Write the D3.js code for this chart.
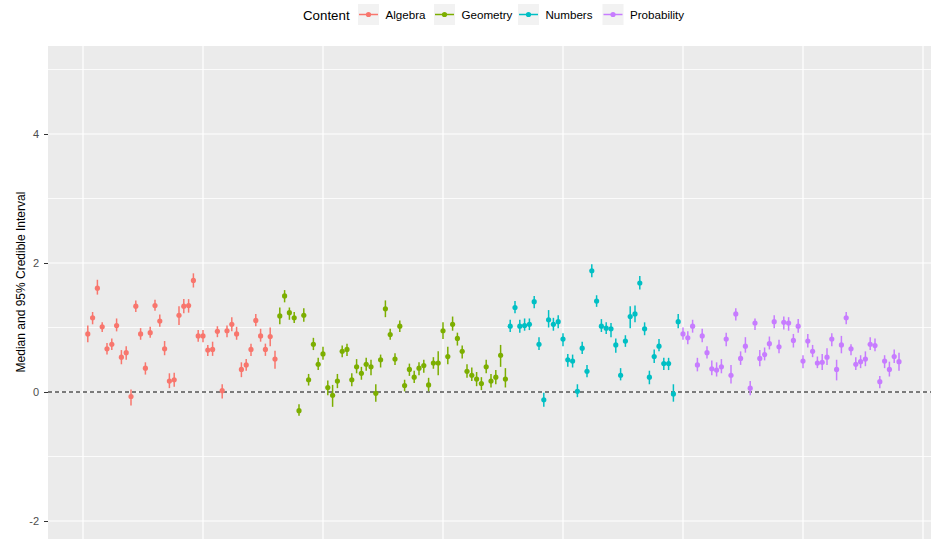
<!DOCTYPE html>
<html>
<head>
<meta charset="utf-8">
<script src="https://cdn.jsdelivr.net/npm/d3@7"></script>
<style>
  html, body { margin: 0; padding: 0; background: #fff; }
  svg { display: block; font-family: "Liberation Sans", Arial, sans-serif; }
</style>
</head>
<body>
<svg id="chart" width="931" height="539"></svg>
<script>
// Content areas and how many items belong to each (items are numbered in order)
const contents = ["Algebra", "Geometry", "Numbers", "Probability"];
const itemCounts = [40, 48, 36, 46];
const contentColors = ["#F8766D", "#7CAE00", "#00BFC4", "#C77CFF"];

// Posterior medians per item
const medians = [
  // Algebra
  0.90, 1.15, 1.61, 1.01, 0.67, 0.74, 1.03, 0.54, 0.61, -0.07,
  1.33, 0.90, 0.37, 0.92, 1.34, 1.10, 0.67, 0.17, 0.19, 1.19,
  1.33, 1.34, 1.73, 0.87, 0.87, 0.65, 0.66, 0.94, 0.02, 0.95,
  1.05, 0.90, 0.35, 0.42, 0.66, 1.11, 0.87, 0.66, 0.86, 0.51,
  // Geometry
  1.18, 1.49, 1.23, 1.15, -0.29, 1.19, 0.19, 0.74, 0.43, 0.59,
  0.07, -0.05, 0.17, 0.63, 0.66, 0.19, 0.39, 0.29, 0.43, 0.39,
  -0.02, 0.50, 1.29, 0.89, 0.51, 1.02, 0.10, 0.35, 0.23, 0.37,
  0.41, 0.11, 0.45, 0.45, 0.95, 0.55, 1.05, 0.83, 0.63, 0.32,
  0.26, 0.20, 0.13, 0.39, 0.17, 0.23, 0.57, 0.20,
  // Numbers
  1.02, 1.31, 1.02, 1.03, 1.05, 1.40, 0.74, -0.12, 1.12, 1.05,
  1.09, 0.82, 0.50, 0.48, 0.01, 0.68, 0.32, 1.88, 1.41, 1.02,
  0.99, 0.98, 0.73, 0.26, 0.79, 1.17, 1.21, 1.69, 0.98, 0.23,
  0.55, 0.71, 0.44, 0.44, -0.03, 1.09,
  // Probability
  0.90, 0.84, 1.02, 0.42, 0.87, 0.61, 0.36, 0.34, 0.39, 0.82,
  0.26, 1.21, 0.52, 0.71, 0.06, 1.07, 0.52, 0.58, 0.75, 1.09,
  0.70, 1.08, 1.07, 0.80, 1.02, 0.48, 0.79, 0.63, 0.45, 0.46,
  0.54, 0.82, 0.35, 0.73, 1.15, 0.67, 0.43, 0.47, 0.51, 0.74,
  0.72, 0.16, 0.48, 0.35, 0.55, 0.47
];

// Lower bounds of the 95% credible intervals
const lower = [
  0.77, 1.05, 1.51, 0.93, 0.58, 0.65, 0.94, 0.43, 0.50, -0.21,
  1.24, 0.81, 0.27, 0.84, 1.26, 1.01, 0.57, 0.06, 0.08, 1.04,
  1.22, 1.23, 1.62, 0.78, 0.77, 0.56, 0.56, 0.85, -0.10, 0.85,
  0.94, 0.81, 0.23, 0.33, 0.56, 1.02, 0.78, 0.56, 0.71, 0.36,
  1.05, 1.39, 1.12, 1.07, -0.37, 1.09, 0.10, 0.65, 0.34, 0.50,
  -0.05, -0.23, 0.06, 0.54, 0.56, 0.09, 0.29, 0.19, 0.33, 0.26,
  -0.15, 0.38, 1.16, 0.81, 0.42, 0.93, 0.01, 0.25, 0.14, 0.26,
  0.30, 0.01, 0.36, 0.26, 0.82, 0.43, 0.95, 0.72, 0.52, 0.22,
  0.17, 0.09, 0.03, 0.29, 0.07, 0.12, 0.39, 0.07,
  0.93, 1.22, 0.92, 0.95, 0.96, 1.30, 0.65, -0.23, 1.00, 0.95,
  0.99, 0.71, 0.39, 0.38, -0.08, 0.59, 0.23, 1.78, 1.32, 0.93,
  0.90, 0.85, 0.61, 0.18, 0.70, 0.99, 1.08, 1.59, 0.88, 0.12,
  0.45, 0.63, 0.34, 0.34, -0.15, 0.99,
  0.81, 0.74, 0.92, 0.32, 0.77, 0.52, 0.26, 0.24, 0.29, 0.71,
  0.13, 1.11, 0.42, 0.61, -0.05, 0.96, 0.40, 0.49, 0.66, 0.99,
  0.60, 0.97, 0.95, 0.69, 0.92, 0.37, 0.69, 0.54, 0.37, 0.34,
  0.42, 0.71, 0.18, 0.60, 1.05, 0.57, 0.34, 0.37, 0.40, 0.65,
  0.63, 0.06, 0.37, 0.24, 0.45, 0.33
];

// Upper bounds of the 95% credible intervals
const upper = [
  1.03, 1.24, 1.74, 1.08, 0.76, 0.83, 1.14, 0.65, 0.71, 0.04,
  1.42, 0.99, 0.46, 1.01, 1.43, 1.20, 0.79, 0.29, 0.30, 1.33,
  1.44, 1.44, 1.84, 0.96, 0.96, 0.73, 0.78, 1.02, 0.12, 1.03,
  1.16, 1.01, 0.46, 0.51, 0.75, 1.21, 0.98, 0.75, 1.00, 0.64,
  1.31, 1.58, 1.31, 1.24, -0.19, 1.30, 0.28, 0.84, 0.53, 0.70,
  0.18, 0.11, 0.28, 0.72, 0.75, 0.29, 0.51, 0.39, 0.53, 0.50,
  0.12, 0.58, 1.42, 0.98, 0.60, 1.11, 0.19, 0.44, 0.33, 0.46,
  0.50, 0.22, 0.54, 0.63, 1.08, 0.70, 1.17, 0.92, 0.72, 0.43,
  0.38, 0.31, 0.23, 0.50, 0.28, 0.34, 0.73, 0.37,
  1.12, 1.41, 1.12, 1.14, 1.14, 1.49, 0.85, -0.01, 1.27, 1.15,
  1.19, 0.91, 0.59, 0.58, 0.12, 0.78, 0.42, 1.98, 1.50, 1.13,
  1.08, 1.07, 0.83, 0.37, 0.88, 1.33, 1.34, 1.80, 1.08, 0.33,
  0.66, 0.82, 0.53, 0.53, 0.12, 1.21,
  1.00, 0.94, 1.12, 0.53, 0.98, 0.71, 0.49, 0.46, 0.51, 0.92,
  0.42, 1.30, 0.63, 0.85, 0.17, 1.14, 0.65, 0.69, 0.86, 1.19,
  0.81, 1.17, 1.16, 0.90, 1.13, 0.57, 0.90, 0.73, 0.55, 0.59,
  0.68, 0.91, 0.50, 0.87, 1.24, 0.74, 0.54, 0.57, 0.63, 0.85,
  0.83, 0.25, 0.57, 0.47, 0.66, 0.61
];

const yTicks = [-2, 0, 2, 4];
const yMinorTicks = [-1, 1, 3, 5];
const xBreaks = [0, 25, 50, 75, 100, 125, 150, 175];
const legendTitle = "Content";
const yTitle = "Median and 95% Credible Interval";

// Assemble one record per item
const items = [];
let idx = 0;
contents.forEach((c, ci) => {
  for (let k = 0; k < itemCounts[ci]; k++) {
    items.push({ item: idx + 1, content: c, median: medians[idx], lo: lower[idx], hi: upper[idx] });
    idx++;
  }
});

const svg = d3.select("#chart");
const W = 931, H = 539;
const panel = { left: 48, top: 46, right: 940, bottom: 545 };

const x = d3.scaleLinear().domain([0, 175]).range([83, 923]);
const y = d3.scaleLinear().domain([-2, 4]).range([521, 134]);
const color = d3.scaleOrdinal().domain(contents).range(contentColors);

svg.append("rect").attr("width", W).attr("height", H).attr("fill", "#fff");

// Panel background
const clip = svg.append("defs").append("clipPath").attr("id", "panelClip");
clip.append("rect").attr("x", panel.left).attr("y", panel.top)
  .attr("width", panel.right - panel.left).attr("height", panel.bottom - panel.top);

const g = svg.append("g").attr("clip-path", "url(#panelClip)");
g.append("rect").attr("x", panel.left).attr("y", panel.top)
  .attr("width", panel.right - panel.left).attr("height", panel.bottom - panel.top)
  .attr("fill", "#EBEBEB");

// Grid lines
g.selectAll("line.hminor").data(yMinorTicks).join("line")
  .attr("x1", panel.left).attr("x2", panel.right)
  .attr("y1", d => y(d)).attr("y2", d => y(d))
  .attr("stroke", "#fff").attr("stroke-width", 0.8);
g.selectAll("line.hmajor").data(yTicks).join("line")
  .attr("x1", panel.left).attr("x2", panel.right)
  .attr("y1", d => y(d)).attr("y2", d => y(d))
  .attr("stroke", "#fff").attr("stroke-width", 1.2);
g.selectAll("line.vgrid").data(xBreaks).join("line")
  .attr("x1", d => x(d)).attr("x2", d => x(d))
  .attr("y1", panel.top).attr("y2", panel.bottom)
  .attr("stroke", "#fff").attr("stroke-width", 1.2);

// Zero reference line
g.append("line")
  .attr("x1", panel.left).attr("x2", panel.right)
  .attr("y1", y(0)).attr("y2", y(0))
  .attr("stroke", "#000").attr("stroke-width", 1)
  .attr("stroke-dasharray", "4,3");

// Point ranges
const pr = g.append("g").selectAll("g").data(items).join("g");
pr.append("line")
  .attr("x1", d => x(d.item)).attr("x2", d => x(d.item))
  .attr("y1", d => y(d.lo)).attr("y2", d => y(d.hi))
  .attr("stroke", d => color(d.content)).attr("stroke-width", 1.5);
pr.append("circle")
  .attr("cx", d => x(d.item)).attr("cy", d => y(d.median))
  .attr("r", 2.6).attr("fill", d => color(d.content));

// Y axis (plain hyphen for negative labels)
const yAxis = svg.append("g").attr("transform", `translate(${panel.left},0)`)
  .call(d3.axisLeft(y).tickValues(yTicks).tickSize(4).tickPadding(5).tickFormat(d => String(d)));
yAxis.select(".domain").remove();
yAxis.selectAll(".tick line").attr("stroke", "#333").attr("stroke-width", 1);
yAxis.selectAll(".tick text").attr("fill", "#4D4D4D").attr("font-size", 11)
  .attr("font-family", "Liberation Sans, Arial, sans-serif");

svg.append("text")
  .attr("transform", `translate(25,282) rotate(-90)`)
  .attr("text-anchor", "middle")
  .attr("font-size", 12).attr("fill", "#000")
  .text(yTitle);

// Legend
const legend = svg.append("g");
legend.append("text").attr("x", 303).attr("y", 20)
  .attr("font-size", 13.3).attr("fill", "#000").text(legendTitle);
const keyX = [358, 434, 518, 602.5];
contents.forEach((c, i) => {
  const k = legend.append("g").attr("transform", `translate(${keyX[i]},4)`);
  k.append("rect").attr("width", 21).attr("height", 21).attr("fill", "#F2F2F2");
  k.append("line").attr("x1", 1).attr("x2", 20).attr("y1", 10.5).attr("y2", 10.5)
    .attr("stroke", color(c)).attr("stroke-width", 1.5);
  k.append("circle").attr("cx", 10.5).attr("cy", 10.5).attr("r", 2.6).attr("fill", color(c));
  k.append("text").attr("x", 27.5).attr("y", 14.8)
    .attr("font-size", 11.6).attr("fill", "#000").text(c);
});
</script>
</body>
</html>
